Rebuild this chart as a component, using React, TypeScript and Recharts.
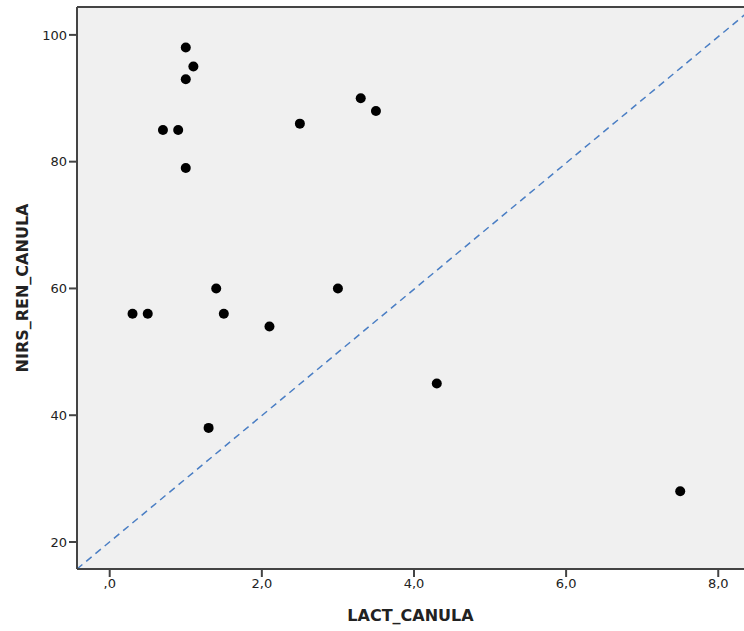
import {
  CartesianGrid,
  ReferenceLine,
  Scatter,
  ScatterChart,
  XAxis,
  YAxis,
} from "recharts";

const lactCanula = [1.0, 1.1, 1.0, 0.7, 0.9, 1.0, 2.5, 3.3, 3.5, 0.3, 0.5, 1.4, 1.5, 3.0, 2.1, 4.3, 1.3, 7.5];
const nirsRenCanula = [98, 95, 93, 85, 85, 79, 86, 90, 88, 56, 56, 60, 56, 60, 54, 45, 38, 28];
const xTicks = [0, 2, 4, 6, 8];
const yTicks = [20, 40, 60, 80, 100];

const points = lactCanula.map((x, i) => ({ x, y: nirsRenCanula[i] }));

const X_MIN = -0.43;
const X_MAX = 8.47;
const Y_MIN = 15.74;
const Y_MAX = 104.4;

const axisColor = "#444";
const font = "DejaVu Sans, Verdana, sans-serif";

// SPSS style decimal comma: 0 -> ",0", 2 -> "2,0"
const fmt = (v: number) => (v === 0 ? ",0" : v.toFixed(1).replace(".", ","));

export default function App() {
  return (
    <div
      style={{
        position: "absolute",
        left: 0,
        top: 0,
        width: 744,
        height: 631,
        overflow: "hidden",
        background: "#fff",
      }}
    >
      <ScatterChart
        width={760}
        height={631}
        margin={{ top: 7, right: 6, bottom: 0, left: 0 }}
      >
        <CartesianGrid horizontal={false} vertical={false} fill="#f0f0f0" />
        <XAxis
          type="number"
          dataKey="x"
          domain={[X_MIN, X_MAX]}
          ticks={xTicks}
          tickFormatter={fmt}
          height={62}
          stroke={axisColor}
          strokeWidth={2}
          tickSize={8}
          tick={{ fill: "#222", fontSize: 13, fontFamily: font }}
          allowDataOverflow
          label={{
            value: "LACT_CANULA",
            position: "insideBottom",
            offset: 10,
            dx: -5,
            style: { fill: "#222", fontSize: 16, fontWeight: "bold", fontFamily: font },
          }}
        />
        <YAxis
          type="number"
          dataKey="y"
          domain={[Y_MIN, Y_MAX]}
          ticks={yTicks}
          width={77}
          stroke={axisColor}
          strokeWidth={2}
          tickSize={8}
          tick={{ fill: "#222", fontSize: 13, fontFamily: font }}
          allowDataOverflow
          label={{
            value: "NIRS_REN_CANULA",
            angle: -90,
            position: "insideLeft",
            offset: 22,
            style: {
              fill: "#222",
              fontSize: 16,
              fontWeight: "bold",
              fontFamily: font,
              textAnchor: "middle",
            },
          }}
        />
        <ReferenceLine y={Y_MAX} stroke={axisColor} strokeWidth={2} ifOverflow="visible" />
        <ReferenceLine
          segment={[
            { x: X_MIN, y: Y_MIN },
            { x: X_MAX, y: Y_MAX },
          ]}
          stroke="#4a7ec4"
          strokeWidth={1.5}
          strokeDasharray="7 5"
          ifOverflow="visible"
        />
        <Scatter
          data={points}
          fill="#000"
          isAnimationActive={false}
          shape={(p: any) => <circle cx={p.cx} cy={p.cy} r={5} fill="#000" />}
        />
      </ScatterChart>
    </div>
  );
}
